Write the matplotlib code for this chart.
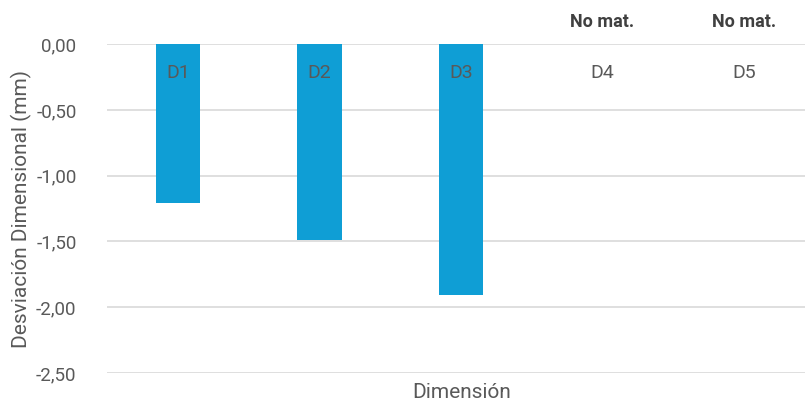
import matplotlib.pyplot as plt
import numpy as np

plt.rcParams['font.family'] = ['Roboto', 'DejaVu Sans']

# datos de desviacion por dimension (mm)
dimensiones = ['D1', 'D2', 'D3', 'D4', 'D5']
desviacion = [-1.21, -1.49, -1.91, np.nan, np.nan]
notas = ['', '', '', 'No mat.', 'No mat.']
ticks_y = [0.0, -0.5, -1.0, -1.5, -2.0, -2.5]

gris = '#595959'

fig = plt.figure(figsize=(8.05, 4.05), dpi=100)
ax = fig.add_axes([0.133, 0.079, 0.879, 0.812])

x = np.arange(len(dimensiones))
valores = [0 if np.isnan(v) else v for v in desviacion]
ax.bar(x, valores, width=0.315, color='#0F9ED5', zorder=3)

ax.set_xlim(-0.5, len(dimensiones) - 0.5)
ax.set_ylim(-2.5, 0)
ax.set_yticks(ticks_y)
ax.set_yticklabels([f'{t:.2f}'.replace('.', ',') for t in ticks_y])
ax.tick_params(axis='y', length=0, pad=22, labelsize=13.5, labelcolor=gris)
ax.set_xticks([])
ax.grid(axis='y', color='#D9D9D9', linewidth=1.2, zorder=0)
for s in ax.spines.values():
    s.set_visible(False)

# etiquetas de categoria junto al eje (arriba, en y=0)
for i, d in enumerate(dimensiones):
    ax.text(i, -0.22, d, ha='center', va='center', fontsize=14, color=gris, zorder=4)
    if notas[i]:
        ax.text(i, 0.17, notas[i], ha='center', va='center', fontsize=13,
                fontweight='bold', color='#404040', clip_on=False)

ax.set_ylabel('Desviación Dimensional (mm)', fontsize=15, color=gris, labelpad=3)
fig.text(0.573, 0.03, 'Dimensión', ha='center', va='center', fontsize=15, color=gris)

fig.savefig('out.png', dpi=100)
